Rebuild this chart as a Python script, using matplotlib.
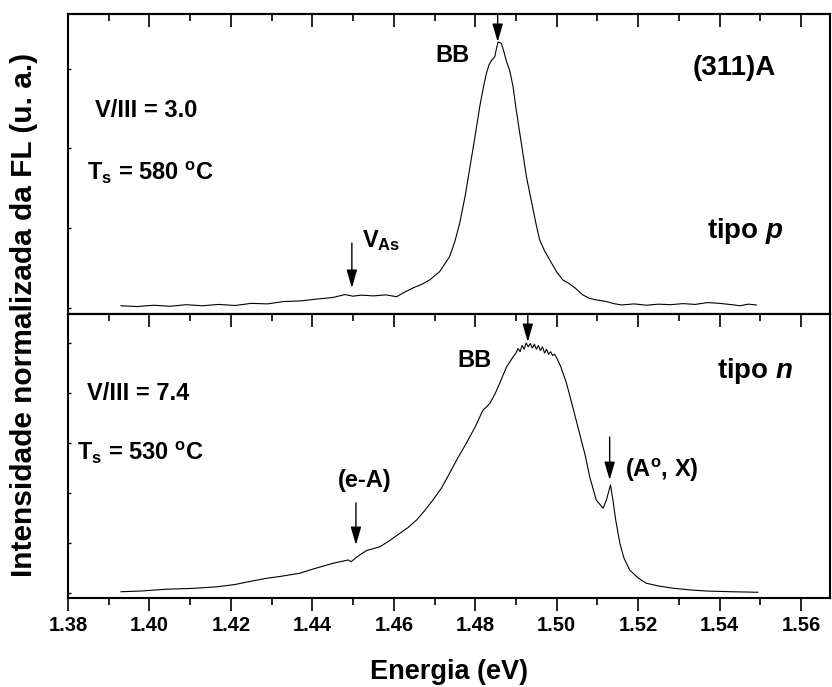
import matplotlib
matplotlib.use("Agg")
import matplotlib.pyplot as plt
from matplotlib.ticker import MultipleLocator, FormatStrFormatter

plt.rcParams["font.family"] = ["Liberation Sans", "DejaVu Sans"]
plt.rcParams["font.weight"] = "bold"
plt.rcParams["mathtext.fontset"] = "custom"
plt.rcParams["mathtext.rm"] = "Liberation Sans:bold"
plt.rcParams["mathtext.bf"] = "Liberation Sans:bold"
plt.rcParams["mathtext.it"] = "Liberation Sans:italic:bold"
plt.rcParams["mathtext.default"] = "bf"

# ---------- data (normalized PL intensity) ----------
# (311)A, p-type, V/III = 3.0
energy_p = [1.393, 1.397, 1.401, 1.405, 1.409, 1.413, 1.417, 1.421, 1.425, 1.429,
            1.433, 1.437, 1.441, 1.445, 1.448, 1.450, 1.452, 1.455, 1.458, 1.4607,
            1.4625, 1.4647, 1.4668, 1.4688, 1.4713, 1.4737, 1.4750, 1.4762, 1.4775, 1.4787,
            1.4800, 1.4811, 1.4820, 1.4827, 1.4834, 1.4840, 1.4848, 1.4852, 1.4856, 1.4864,
            1.4870, 1.4876, 1.4885, 1.4893, 1.4900, 1.4909, 1.4918, 1.4926, 1.4934, 1.4942,
            1.4950, 1.4958, 1.4970, 1.4983, 1.5000, 1.5015, 1.5030, 1.5045, 1.5064, 1.5080,
            1.5097, 1.5122, 1.5140, 1.5160, 1.519, 1.522, 1.525, 1.528, 1.531, 1.534,
            1.537, 1.540, 1.543, 1.545, 1.547, 1.549]
intens_p = [0.008, 0.005, 0.010, 0.006, 0.012, 0.008, 0.013, 0.009, 0.017, 0.015,
            0.024, 0.026, 0.033, 0.039, 0.050, 0.044, 0.048, 0.045, 0.049, 0.042,
            0.058, 0.075, 0.088, 0.105, 0.137, 0.193, 0.250, 0.320, 0.420, 0.530,
            0.650, 0.757, 0.830, 0.880, 0.915, 0.930, 0.945, 0.975, 1.000, 0.995,
            0.965, 0.930, 0.890, 0.830, 0.750, 0.660, 0.570, 0.490, 0.430, 0.370,
            0.310, 0.256, 0.215, 0.180, 0.135, 0.105, 0.092, 0.075, 0.049, 0.036,
            0.030, 0.024, 0.016, 0.011, 0.015, 0.010, 0.014, 0.012, 0.016, 0.013,
            0.020, 0.017, 0.012, 0.008, 0.014, 0.011]

# (311)A, n-type, V/III = 7.4
energy_n = [1.393, 1.398, 1.404, 1.410, 1.416, 1.4181, 1.421, 1.424, 1.4288, 1.432,
            1.4369, 1.440, 1.4451, 1.4488, 1.4495, 1.451, 1.4533, 1.4566, 1.4590, 1.4615,
            1.4635, 1.4656, 1.4676, 1.4696, 1.4717, 1.4737, 1.4757, 1.4778, 1.4800, 1.4819,
            1.4828, 1.4836, 1.4848, 1.4860, 1.4877, 1.4893, 1.4900,
            1.4905, 1.4910, 1.4915, 1.4920, 1.4925, 1.4930, 1.4935, 1.4940, 1.4945, 1.4950,
            1.4955, 1.4960, 1.4965, 1.4970, 1.4975, 1.4980, 1.4985, 1.4990, 1.4995, 1.5000,
            1.5010, 1.5024, 1.5040, 1.5056, 1.5070, 1.5081, 1.5097, 1.5114, 1.5122, 1.5132,
            1.5138, 1.5145, 1.5155, 1.5165, 1.5179, 1.5200, 1.5220, 1.5250, 1.5286, 1.5330,
            1.5367, 1.5430, 1.5494]
intens_n = [0.005, 0.008, 0.015, 0.018, 0.024, 0.028, 0.034, 0.044, 0.059, 0.066,
            0.079, 0.095, 0.119, 0.132, 0.125, 0.145, 0.170, 0.185, 0.210, 0.239,
            0.262, 0.292, 0.330, 0.372, 0.420, 0.479, 0.540, 0.599, 0.665, 0.732,
            0.745, 0.759, 0.795, 0.839, 0.905, 0.945, 0.960,
            0.978, 0.965, 0.990, 0.975, 1.000, 0.985, 0.998, 0.980, 0.995, 0.975,
            0.990, 0.970, 0.985, 0.960, 0.975, 0.955, 0.965, 0.950, 0.955, 0.940,
            0.905, 0.839, 0.740, 0.639, 0.550, 0.465, 0.372, 0.339, 0.372, 0.432,
            0.372, 0.290, 0.199, 0.140, 0.092, 0.060, 0.039, 0.028, 0.019, 0.012,
            0.008, 0.005, 0.003]

xticks = [1.38, 1.40, 1.42, 1.44, 1.46, 1.48, 1.50, 1.52, 1.54, 1.56]

W, H = 832, 687
fig = plt.figure(figsize=(W / 100, H / 100), dpi=100)
left, right = 68 / W, 830 / W
ax_top = fig.add_axes([left, 1 - 314 / H, right - left, 300 / H])
ax_bot = fig.add_axes([left, 1 - 598 / H, right - left, 284 / H])

for ax in (ax_top, ax_bot):
    ax.set_xlim(1.38, 1.5671)
    ax.set_xticks(xticks)
    ax.xaxis.set_minor_locator(MultipleLocator(0.01))
    for s in ax.spines.values():
        s.set_linewidth(1.5)
    ax.tick_params(axis="y", which="both", direction="in", length=2, width=1,
                   labelleft=False, right=False)
    # ticks on the top edge, pointing into the panel
    sec = ax.secondary_xaxis("top")
    sec.set_xticks(xticks)
    sec.xaxis.set_minor_locator(MultipleLocator(0.01))
    sec.tick_params(axis="x", which="both", direction="in", labeltop=False, width=1.2)
    sec.tick_params(axis="x", which="major", length=9)
    sec.tick_params(axis="x", which="minor", length=5)
    sec.spines["top"].set_linewidth(1.5)
    ax.tick_params(axis="x", which="both", direction="out", top=False, width=1.2)

ax_top.plot(energy_p, intens_p, color="k", lw=0.8)
ax_top.set_ylim(-0.023, 1.105)
ax_top.yaxis.set_major_locator(MultipleLocator(0.3))
ax_top.tick_params(axis="x", which="both", bottom=False, labelbottom=False)

ax_bot.plot(energy_n, intens_n, color="k", lw=0.8)
ax_bot.set_ylim(-0.02, 1.116)
ax_bot.yaxis.set_major_locator(MultipleLocator(0.2))
ax_bot.tick_params(axis="x", which="major", length=9, labelsize=14.5, pad=4)
ax_bot.tick_params(axis="x", which="minor", length=5)
ax_bot.xaxis.set_major_formatter(FormatStrFormatter("%.2f"))
ax_bot.set_xlabel("Energia (eV)", fontsize=19.5, fontweight="bold", labelpad=17)

fig.text(24 / W, 1 - 315 / H, "Intensidade normalizada da FL (u. a.)", rotation=90,
         ha="center", va="center", fontsize=21.5, fontweight="bold")

arrow = dict(arrowstyle="-|>,head_length=0.55,head_width=0.16", color="k", lw=1,
             shrinkA=0, shrinkB=0, mutation_scale=20)
fs = 17

# top panel annotations
ax_top.annotate("", xy=(1.4855, 1.0), xytext=(1.4855, 1.105), arrowprops=arrow)
ax_top.annotate("", xy=(1.4497, 0.075), xytext=(1.4497, 0.244), arrowprops=arrow)
ax_top.text(1.4701, 0.925, "BB", fontsize=fs)
ax_top.text(1.5334, 0.876, "(311)A", fontsize=20)
ax_top.text(1.3866, 0.718, "V/III = 3.0", fontsize=fs)
ax_top.text(1.3847, 0.481, r"T$_s$ = 580 $^o$C", fontsize=fs)
ax_top.text(1.4521, 0.229, r"V$_{As}$", fontsize=fs)
ax_top.text(1.5368, 0.263, r"tipo $\mathit{p}$", fontsize=20)

# bottom panel annotations
ax_bot.annotate("", xy=(1.4929, 1.004), xytext=(1.4929, 1.116), arrowprops=arrow)
ax_bot.annotate("", xy=(1.5130, 0.452), xytext=(1.5130, 0.624), arrowprops=arrow)
ax_bot.annotate("", xy=(1.4507, 0.192), xytext=(1.4507, 0.36), arrowprops=arrow)
ax_bot.text(1.4755, 0.904, "BB", fontsize=fs)
ax_bot.text(1.5393, 0.86, r"tipo $\mathit{n}$", fontsize=20)
ax_bot.text(1.5167, 0.464, r"(A$^o$, X)", fontsize=fs)
ax_bot.text(1.4463, 0.424, "(e-A)", fontsize=fs)
ax_bot.text(1.3847, 0.772, "V/III = 7.4", fontsize=fs)
ax_bot.text(1.3822, 0.532, r"T$_s$ = 530 $^o$C", fontsize=fs)

fig.savefig("out.png", dpi=100)
